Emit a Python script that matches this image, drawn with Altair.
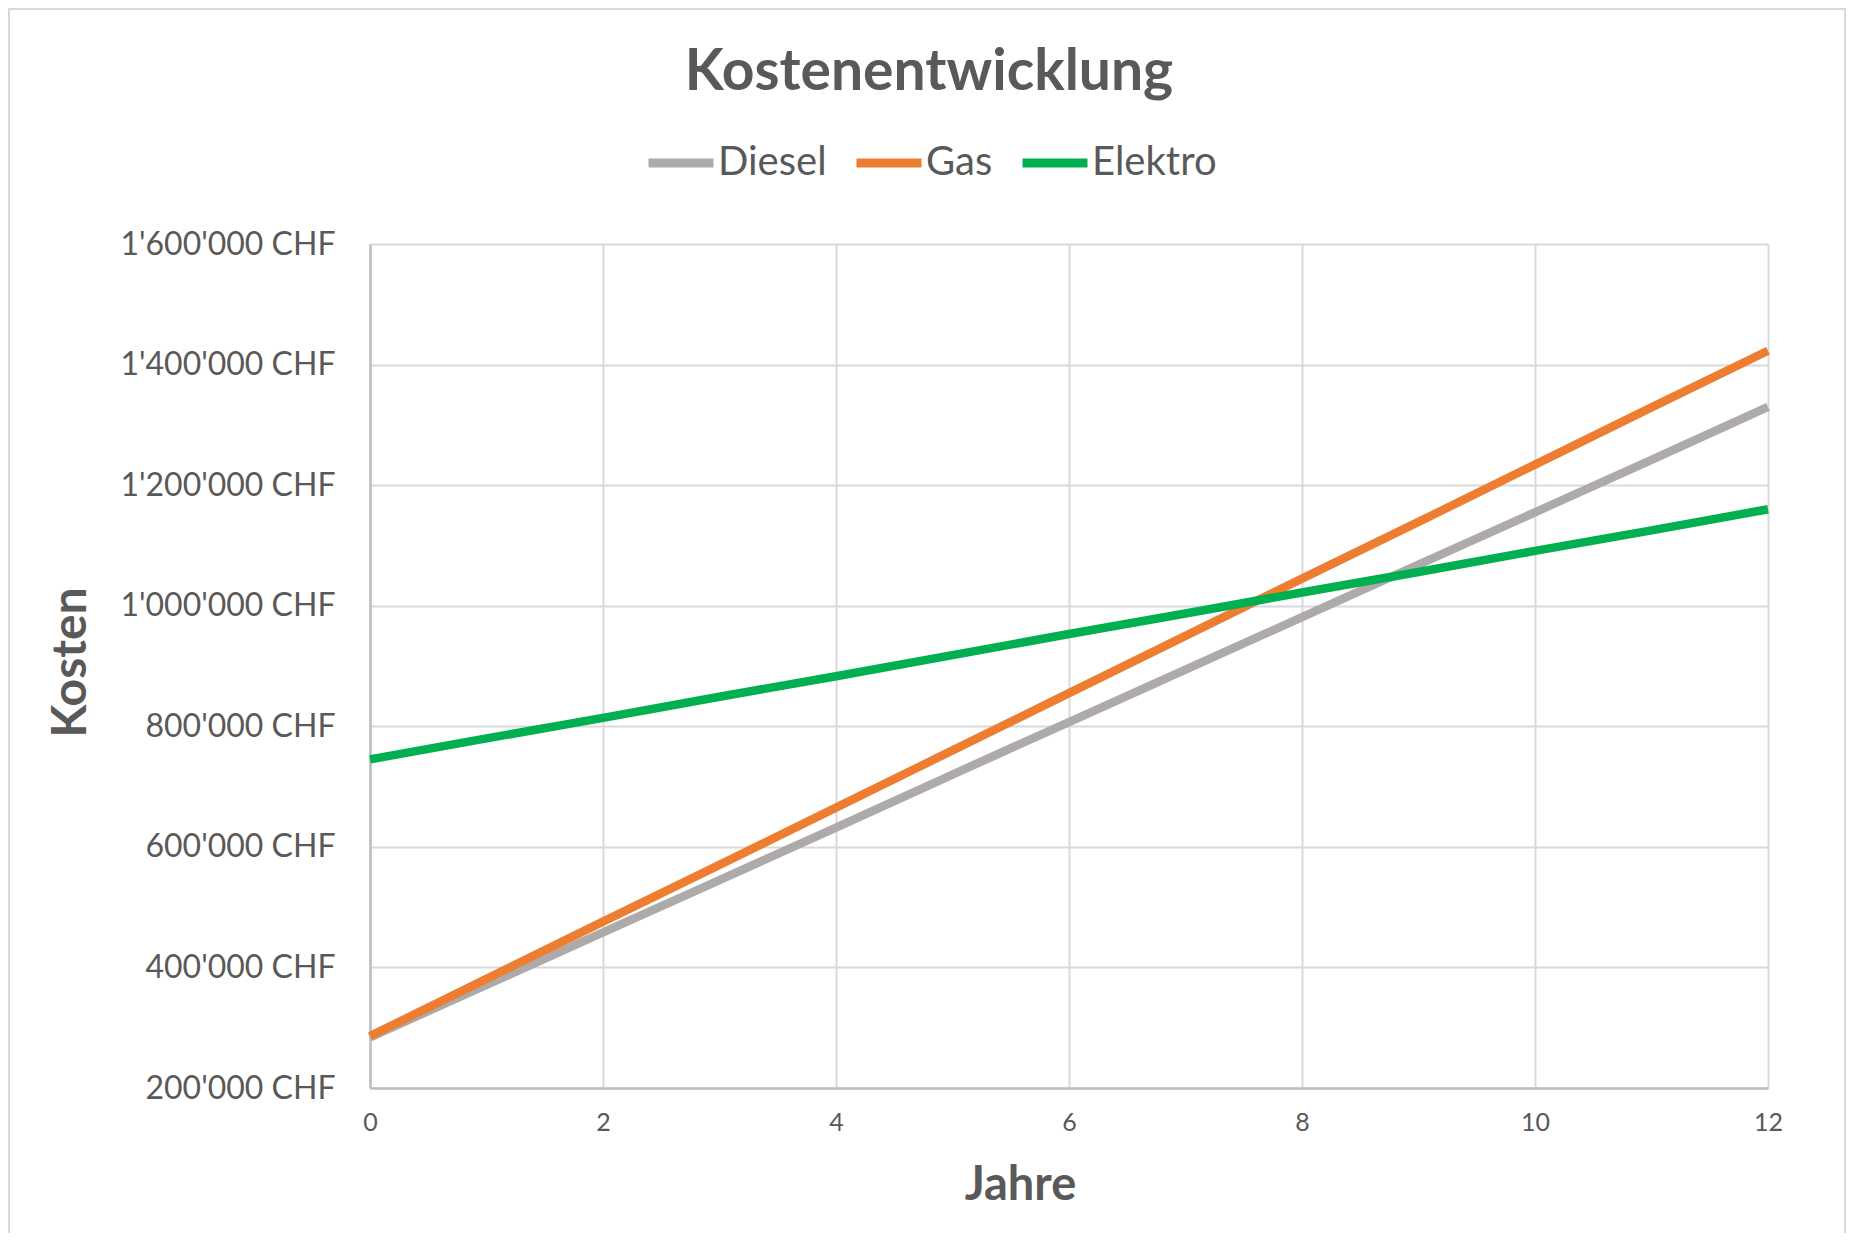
import altair as alt
import pandas as pd

years = list(range(0, 13))
series = ["Diesel", "Gas", "Elektro"]
colors = ["#AEAAAA", "#ED7D31", "#00B050"]

diesel = [284000, 371000, 458000, 545000, 632000, 720000, 807000, 894000,
          981000, 1068000, 1155000, 1242000, 1330000]
gas = [286000, 381000, 476000, 570000, 665000, 760000, 855000, 950000,
       1045000, 1139000, 1234000, 1329000, 1423000]
elektro = [745000, 780000, 814000, 849000, 883000, 918000, 953000, 987000,
           1022000, 1056000, 1091000, 1125000, 1160000]

x_ticks = [0, 2, 4, 6, 8, 10, 12]
y_ticks = [200000, 400000, 600000, 800000, 1000000, 1200000, 1400000, 1600000]

rows = []
for name, vals in zip(series, [diesel, gas, elektro]):
    for yr, v in zip(years, vals):
        rows.append({"Jahr": yr, "Kosten": v, "Typ": name})
df = pd.DataFrame(rows)

TEXT = "#595959"
FONT = "Lato"

label_expr = "replace(format(datum.value, ',d'), regexp(',', 'g'), \"'\") + ' CHF'"

x_enc = alt.X(
    "Jahr:Q",
    scale=alt.Scale(domain=[0, 12], nice=False, zero=False),
    axis=alt.Axis(
        values=x_ticks, title="Jahre", grid=True, gridColor="#D9D9D9", gridWidth=2,
        domainColor="#BFBFBF", domainWidth=2.5, ticks=False,
        labelFont=FONT, labelFontSize=25, labelColor=TEXT, labelPadding=22,
        labelBaseline="top", labelFlush=False, labelOverlap=False,
        titleFont=FONT, titleFontSize=47, titleFontWeight="bold", titleColor=TEXT,
        titleX=650, titleY=97, titleBaseline="middle", titleAlign="center",
    ),
)
y_enc = alt.Y(
    "Kosten:Q",
    scale=alt.Scale(domain=[200000, 1600000], nice=False, zero=False),
    axis=alt.Axis(
        values=y_ticks, title="Kosten", grid=True, gridColor="#D9D9D9", gridWidth=2,
        domainColor="#BFBFBF", domainWidth=2.5, ticks=False,
        labelExpr=label_expr, labelLimit=400, labelFlush=False, labelOverlap=False,
        labelFont=FONT, labelFontSize=32, labelColor=TEXT, labelPadding=35,
        titleFont=FONT, titleFontSize=48, titleFontWeight="bold", titleColor=TEXT,
        titleX=-299, titleY=418, titleBaseline="middle", titleAlign="center",
        titleAngle=270,
    ),
)
color_enc = alt.Color(
    "Typ:N",
    scale=alt.Scale(domain=series, range=colors),
    legend=alt.Legend(
        title=None, orient="none", legendX=274, legendY=-118,
        direction="horizontal", columns=3,
        symbolType="stroke", symbolSize=4225, symbolStrokeWidth=9,
        labelFont=FONT, labelFontSize=40, labelColor=TEXT, labelOffset=0,
        columnPadding=11,
    ),
)

layers = []
for name in series:
    layers.append(
        alt.Chart(df)
        .transform_filter(alt.datum.Typ == name)
        .mark_line(strokeWidth=8.5, strokeCap="butt")
        .encode(x=x_enc, y=y_enc, color=color_enc)
    )

border = alt.Chart(pd.DataFrame({"a": [0]})).mark_rect(
    filled=False, stroke="#D9D9D9", strokeWidth=2
).encode(
    x=alt.value(-361), x2=alt.value(1475), y=alt.value(-235), y2=alt.value(1000)
)

chart = alt.layer(border, *layers).properties(
    width=1398,
    height=844,
    padding={"left": 362, "top": 236, "right": 78, "bottom": 145},
    autosize=alt.AutoSizeParams(type="none"),
    title=alt.TitleParams(
        "Kostenentwicklung", font=FONT, fontSize=57, fontWeight="bold", color=TEXT,
        anchor="middle", dx=-140, dy=139, baseline="alphabetic", offset=0,
    ),
).configure_view(stroke=None).configure(background="white")

chart.save("out.html", embed_options={"renderer": "svg", "actions": False})
